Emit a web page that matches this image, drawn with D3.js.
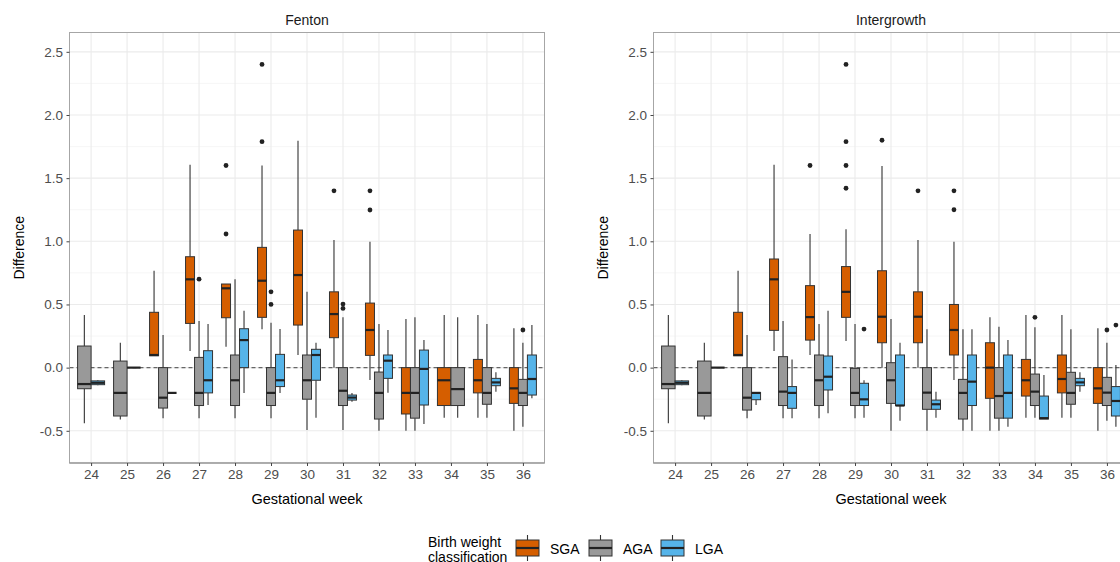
<!DOCTYPE html>
<html>
<head>
<meta charset="utf-8">
<script src="https://cdn.jsdelivr.net/npm/d3@7"></script>
<style>
body { margin: 0; background: #fff; }
text { font-family: "Liberation Sans", Arial, sans-serif; }
</style>
</head>
<body>
<svg id="mysvg" width="1120" height="562"></svg>
<script>

var weeks = [24, 25, 26, 27, 28, 29, 30, 31, 32, 33, 34, 35, 36];
var groups = ["SGA", "AGA", "LGA"];
var groupColors = ["#D55E00", "#999999", "#56B4E9"];
var yTicks = [-0.5, 0, 0.5, 1, 1.5, 2, 2.5];
var yMinor = [-0.75, -0.25, 0.25, 0.75, 1.25, 1.75, 2.25];

// week, group, lower whisker, q1, median, q3, upper whisker
var fentonBoxes = [
	[24, "AGA", -0.44, -0.167, -0.13, 0.171, 0.416],
	[24, "LGA", -0.14, -0.135, -0.12, -0.105, -0.10],
	[25, "AGA", -0.41, -0.383, -0.20, 0.052, 0.197],
	[25, "LGA", 0, 0, 0, 0, 0],
	[26, "SGA", 0.094, 0.094, 0.10, 0.438, 0.767],
	[26, "AGA", -0.40, -0.32, -0.238, 0.0, 0.258],
	[26, "LGA", -0.20, -0.20, -0.20, -0.20, -0.20],
	[27, "SGA", 0.131, 0.35, 0.699, 0.878, 1.607],
	[27, "AGA", -0.40, -0.30, -0.20, 0.081, 0.369],
	[27, "LGA", -0.296, -0.20, -0.10, 0.134, 0.345],
	[28, "SGA", 0.166, 0.395, 0.628, 0.662, 0.662],
	[28, "AGA", -0.40, -0.30, -0.10, 0.10, 0.70],
	[28, "LGA", -0.20, 0.0, 0.218, 0.308, 0.45],
	[29, "SGA", 0.303, 0.398, 0.688, 0.952, 1.60],
	[29, "AGA", -0.40, -0.30, -0.20, 0.0, 0.356],
	[29, "LGA", -0.20, -0.15, -0.10, 0.105, 0.305],
	[30, "SGA", 0.10, 0.337, 0.733, 1.089, 1.797],
	[30, "AGA", -0.494, -0.25, -0.10, 0.10, 0.60],
	[30, "LGA", -0.397, -0.10, 0.10, 0.145, 0.197],
	[31, "SGA", 0.0, 0.237, 0.424, 0.60, 1.01],
	[31, "AGA", -0.494, -0.30, -0.183, 0.0, 0.398],
	[31, "LGA", -0.27, -0.257, -0.237, -0.217, -0.20],
	[32, "SGA", -0.098, 0.097, 0.298, 0.511, 0.997],
	[32, "AGA", -0.50, -0.407, -0.20, -0.035, 0.345],
	[32, "LGA", -0.198, -0.085, 0.055, 0.10, 0.298],
	[33, "SGA", -0.50, -0.367, -0.20, 0.0, 0.385],
	[33, "AGA", -0.50, -0.40, -0.20, 0.0, 0.398],
	[33, "LGA", -0.447, -0.296, -0.01, 0.139, 0.218],
	[34, "SGA", -0.397, -0.30, -0.10, 0.0, 0.416],
	[34, "AGA", -0.397, -0.30, -0.17, 0.0, 0.398],
	[35, "SGA", -0.397, -0.20, -0.10, 0.065, 0.416],
	[35, "AGA", -0.397, -0.29, -0.20, 0.0, 0.345],
	[35, "LGA", -0.19, -0.143, -0.117, -0.085, -0.037],
	[36, "SGA", -0.50, -0.283, -0.164, 0.0, 0.311],
	[36, "AGA", -0.468, -0.30, -0.20, -0.093, 0.197],
	[36, "LGA", -0.243, -0.217, -0.09, 0.10, 0.337]
];

var fentonOutliers = [
	[27, "AGA", 0.70],
	[28, "SGA", 1.60], [28, "SGA", 1.058],
	[29, "SGA", 2.40], [29, "SGA", 1.789],
	[29, "AGA", 0.60], [29, "AGA", 0.50],
	[31, "SGA", 1.40],
	[31, "AGA", 0.503], [31, "AGA", 0.469],
	[32, "SGA", 1.40], [32, "SGA", 1.248],
	[36, "AGA", 0.298]
];

var intergrowthBoxes = [
	[24, "AGA", -0.44, -0.167, -0.13, 0.171, 0.416],
	[24, "LGA", -0.14, -0.135, -0.12, -0.105, -0.10],
	[25, "AGA", -0.41, -0.383, -0.20, 0.052, 0.197],
	[25, "LGA", 0, 0, 0, 0, 0],
	[26, "SGA", 0.094, 0.094, 0.10, 0.438, 0.767],
	[26, "AGA", -0.40, -0.336, -0.238, 0.0, 0.258],
	[26, "LGA", -0.296, -0.254, -0.20, -0.198, -0.198],
	[27, "SGA", 0.131, 0.295, 0.699, 0.86, 1.607],
	[27, "AGA", -0.40, -0.30, -0.19, 0.087, 0.369],
	[27, "LGA", -0.40, -0.322, -0.20, -0.15, 0.065],
	[28, "SGA", 0.10, 0.218, 0.40, 0.649, 1.058],
	[28, "AGA", -0.40, -0.30, -0.10, 0.10, 0.345],
	[28, "LGA", -0.362, -0.177, -0.072, 0.092, 0.45],
	[29, "SGA", 0.211, 0.398, 0.60, 0.80, 1.095],
	[29, "AGA", -0.40, -0.30, -0.20, -0.006, 0.345],
	[29, "LGA", -0.397, -0.30, -0.251, -0.124, -0.10],
	[30, "SGA", 0.0, 0.197, 0.403, 0.767, 1.596],
	[30, "AGA", -0.50, -0.283, -0.10, 0.039, 0.385],
	[30, "LGA", -0.42, -0.30, -0.30, 0.10, 0.197],
	[31, "SGA", 0.0, 0.197, 0.403, 0.60, 1.01],
	[31, "AGA", -0.50, -0.33, -0.198, 0.0, 0.303],
	[31, "LGA", -0.397, -0.33, -0.29, -0.257, -0.19],
	[32, "SGA", -0.098, 0.10, 0.298, 0.50, 0.997],
	[32, "AGA", -0.50, -0.407, -0.20, -0.093, 0.303],
	[32, "LGA", -0.50, -0.30, -0.111, 0.10, 0.303],
	[33, "SGA", -0.50, -0.243, 0.0, 0.197, 0.398],
	[33, "AGA", -0.50, -0.40, -0.225, 0.0, 0.324],
	[33, "LGA", -0.468, -0.40, -0.20, 0.10, 0.218],
	[34, "SGA", -0.397, -0.225, -0.10, 0.065, 0.416],
	[34, "AGA", -0.397, -0.30, -0.19, -0.051, 0.319],
	[34, "LGA", -0.407, -0.407, -0.40, -0.225, -0.059],
	[35, "SGA", -0.397, -0.20, -0.09, 0.10, 0.416],
	[35, "AGA", -0.397, -0.29, -0.20, -0.037, 0.303],
	[35, "LGA", -0.19, -0.143, -0.117, -0.085, -0.037],
	[36, "SGA", -0.50, -0.283, -0.164, 0.0, 0.311],
	[36, "AGA", -0.42, -0.30, -0.198, -0.077, 0.197],
	[36, "LGA", -0.468, -0.383, -0.264, -0.15, 0.02]
];

var intergrowthOutliers = [
	[28, "SGA", 1.60],
	[29, "SGA", 2.40], [29, "SGA", 1.789], [29, "SGA", 1.60], [29, "SGA", 1.42],
	[29, "LGA", 0.305],
	[30, "SGA", 1.80],
	[31, "SGA", 1.40],
	[32, "SGA", 1.40], [32, "SGA", 1.25],
	[34, "AGA", 0.398],
	[36, "AGA", 0.298],
	[36, "LGA", 0.337]
];

var svg = d3.select("#mysvg");
var color = d3.scaleOrdinal().domain(groups).range(groupColors);

var panelTop = 32.5, panelBottom = 463;
var y = d3.scaleLinear().domain([-0.755, 2.653]).range([panelBottom, panelTop]);

function drawPanel (left, title, boxes, outliers) {
	var right = left + 475;
	var g = svg.append("g");

	var x = d3.scalePoint().domain(weeks).range([left, right]).padding(0.6);

	// which groups sit in each week, for dodging
	var dodge = {};
	weeks.forEach(function (w) {
		var present = groups.filter(function (grp) {
			return boxes.some(function (b) { return b[0] == w && b[1] == grp; });
		});
		dodge[w] = d3.scaleBand().domain(present).range([x(w) - 13.5, x(w) + 13.5]);
	});
	function cx (w, grp) { return dodge[w](grp) + dodge[w].bandwidth() / 2; }

	// grid
	g.selectAll(".minor").data(yMinor).enter().append("line")
		.attr("x1", left).attr("x2", right)
		.attr("y1", function (d) { return y(d); }).attr("y2", function (d) { return y(d); })
		.attr("stroke", "#f0f0f0").attr("stroke-width", 0.6);
	g.selectAll(".major").data(yTicks).enter().append("line")
		.attr("x1", left).attr("x2", right)
		.attr("y1", function (d) { return y(d); }).attr("y2", function (d) { return y(d); })
		.attr("stroke", "#ebebeb").attr("stroke-width", 1.1);
	g.selectAll(".vgrid").data(weeks).enter().append("line")
		.attr("x1", function (d) { return x(d); }).attr("x2", function (d) { return x(d); })
		.attr("y1", panelTop).attr("y2", panelBottom)
		.attr("stroke", "#ebebeb").attr("stroke-width", 1.1);

	// reference line at zero
	g.append("line")
		.attr("x1", left).attr("x2", right)
		.attr("y1", y(0)).attr("y2", y(0))
		.attr("stroke", "#666").attr("stroke-width", 1.1)
		.attr("stroke-dasharray", "4,3");

	var bx = g.selectAll(".box").data(boxes).enter().append("g");

	bx.append("line")
		.attr("x1", function (d) { return cx(d[0], d[1]); })
		.attr("x2", function (d) { return cx(d[0], d[1]); })
		.attr("y1", function (d) { return y(d[6]); })
		.attr("y2", function (d) { return y(d[5]); })
		.attr("stroke", "#333").attr("stroke-width", 1.1);
	bx.append("line")
		.attr("x1", function (d) { return cx(d[0], d[1]); })
		.attr("x2", function (d) { return cx(d[0], d[1]); })
		.attr("y1", function (d) { return y(d[3]); })
		.attr("y2", function (d) { return y(d[2]); })
		.attr("stroke", "#333").attr("stroke-width", 1.1);
	bx.append("rect")
		.attr("x", function (d) { return dodge[d[0]](d[1]); })
		.attr("width", function (d) { return dodge[d[0]].bandwidth(); })
		.attr("y", function (d) { return y(d[5]); })
		.attr("height", function (d) { return y(d[3]) - y(d[5]); })
		.attr("fill", function (d) { return color(d[1]); })
		.attr("stroke", "#333").attr("stroke-width", 1);
	bx.append("line")
		.attr("x1", function (d) { return dodge[d[0]](d[1]); })
		.attr("x2", function (d) { return dodge[d[0]](d[1]) + dodge[d[0]].bandwidth(); })
		.attr("y1", function (d) { return y(d[4]); })
		.attr("y2", function (d) { return y(d[4]); })
		.attr("stroke", "#222").attr("stroke-width", 2.2);

	g.selectAll(".out").data(outliers).enter().append("circle")
		.attr("cx", function (d) { return cx(d[0], d[1]); })
		.attr("cy", function (d) { return y(d[2]); })
		.attr("r", 2.4)
		.attr("fill", "#222");

	// border
	g.append("rect")
		.attr("x", left).attr("y", panelTop)
		.attr("width", right - left).attr("height", panelBottom - panelTop)
		.attr("fill", "none").attr("stroke", "#a6a6a6").attr("stroke-width", 1);
	g.append("line")
		.attr("x1", left).attr("x2", right).attr("y1", panelBottom).attr("y2", panelBottom)
		.attr("stroke", "#888").attr("stroke-width", 1.2);

	// axes
	var ya = g.append("g").attr("transform", "translate(" + left + ",0)")
		.call(d3.axisLeft(y).tickValues(yTicks)
			.tickFormat(function (d) { return d.toFixed(1); })
			.tickSize(3).tickPadding(3.5));
	var xa = g.append("g").attr("transform", "translate(0," + panelBottom + ")")
		.call(d3.axisBottom(x).tickSize(3).tickPadding(3));
	[ya, xa].forEach(function (a) {
		a.attr("font-size", null).attr("font-family", null);
		a.select(".domain").remove();
		a.selectAll(".tick line").attr("stroke", "#444");
		a.selectAll("text")
			.attr("fill", "#4d4d4d")
			.style("font-size", "13.5px");
	});

	g.append("text")
		.attr("x", (left + right) / 2).attr("y", 25)
		.attr("text-anchor", "middle")
		.style("font-size", "14px").attr("fill", "#1a1a1a")
		.text(title);

	g.append("text")
		.attr("x", (left + right) / 2).attr("y", 504)
		.attr("text-anchor", "middle")
		.style("font-size", "14.5px").attr("fill", "#000")
		.text("Gestational week");

	g.append("text")
		.attr("transform", "translate(" + (left - 46) + "," + ((panelTop + panelBottom) / 2) + ") rotate(-90)")
		.attr("text-anchor", "middle")
		.style("font-size", "14px").attr("fill", "#000")
		.text("Difference");
}

drawPanel(69.5, "Fenton", fentonBoxes, fentonOutliers);
drawPanel(653.5, "Intergrowth", intergrowthBoxes, intergrowthOutliers);

// legend
var legend = svg.append("g");
legend.append("text").attr("x", 428).attr("y", 547).style("font-size", "14px").text("Birth weight");
legend.append("text").attr("x", 428).attr("y", 561.5).style("font-size", "14px").text("classification");

var keyX = d3.scaleOrdinal().domain(groups).range([516, 589, 661]);
var keys = legend.selectAll(".key").data(groups).enter().append("g")
	.attr("transform", function (d) { return "translate(" + keyX(d) + ",0)"; });
keys.append("line")
	.attr("x1", 11.5).attr("x2", 11.5).attr("y1", 535).attr("y2", 561)
	.attr("stroke", "#333").attr("stroke-width", 1.1);
keys.append("rect")
	.attr("x", 0).attr("y", 540).attr("width", 23).attr("height", 16)
	.attr("fill", function (d) { return color(d); })
	.attr("stroke", "#333").attr("stroke-width", 1);
keys.append("line")
	.attr("x1", 0).attr("x2", 23).attr("y1", 548).attr("y2", 548)
	.attr("stroke", "#222").attr("stroke-width", 2.2);
keys.append("text")
	.attr("x", 34).attr("y", 553.5)
	.style("font-size", "14px")
	.text(function (d) { return d; });

</script>
</body>
</html>
